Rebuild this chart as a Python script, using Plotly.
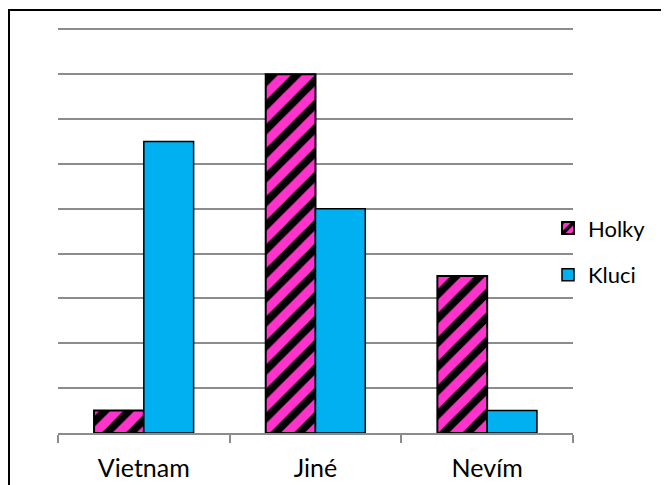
import plotly.graph_objects as go

categories = ["Vietnam", "Jiné", "Nevím"]
holky = [0.5, 8, 3.5]
kluci = [6.5, 5, 0.5]

# page has an 8px body margin; work in page pixels and subtract it
OFF = 8
W, H = 669 - OFF, 485 - OFF
YMAX = 9.1
unit = (433 - 29) / 9.0
top_px = 433 - unit * YMAX
ml, mr, mt, mb = 58 - OFF, 0, top_px - OFF, 52
pw, ph = W - ml - mr, H - mt - mb
plot_right = 573

px2x = lambda px: (px - OFF - ml) / pw
px2y = lambda py: (H - mb - (py - OFF)) / ph

fig = go.Figure()
fig.add_trace(go.Bar(
    x=categories, y=holky, name="Holky", legendgroup="a",
    marker=dict(color="#FF33CC", line=dict(color="black", width=2),
                pattern=dict(shape="/", fgcolor="black", fgopacity=1, bgcolor="#FF33CC",
                             size=17, solidity=0.45)),
))
fig.add_trace(go.Bar(
    x=categories, y=kluci, name="Kluci", legendgroup="b",
    marker=dict(color="#00B0F0", line=dict(color="black", width=1.5)),
))

fig.add_shape(type="rect", xref="paper", yref="paper",
              x0=px2x(9), x1=px2x(700), y0=px2y(520), y1=px2y(9.5),
              line=dict(color="black", width=2), fillcolor="rgba(0,0,0,0)", layer="above")

fig.update_layout(
    width=W, height=H,
    margin=dict(l=ml, r=mr, t=mt, b=mb, autoexpand=False),
    paper_bgcolor="white", plot_bgcolor="white",
    barmode="group", bargap=0.42, bargroupgap=0,
    font=dict(family="Lato", size=25, color="black"),
    showlegend=True,
    legend=dict(x=px2x(548), y=px2y(207), xanchor="left", yanchor="top",
                tracegroupgap=15, font=dict(size=22, family="Lato"),
                bgcolor="rgba(0,0,0,0)"),
    xaxis=dict(type="category", tickson="boundaries", ticks="outside", ticklen=8,
               domain=[0, px2x(plot_right)],
               tickcolor="#8C8C8C", tickwidth=1.5, showline=True, linecolor="#8C8C8C", linewidth=1.5,
               showgrid=False, ticklabelstandoff=12),
    yaxis=dict(range=[0, YMAX], tickvals=list(range(1, 10)), showticklabels=False, showgrid=True,
               gridcolor="#8C8C8C", gridwidth=1.5, zeroline=False, showline=False),
)

fig.write_html("out.html")
